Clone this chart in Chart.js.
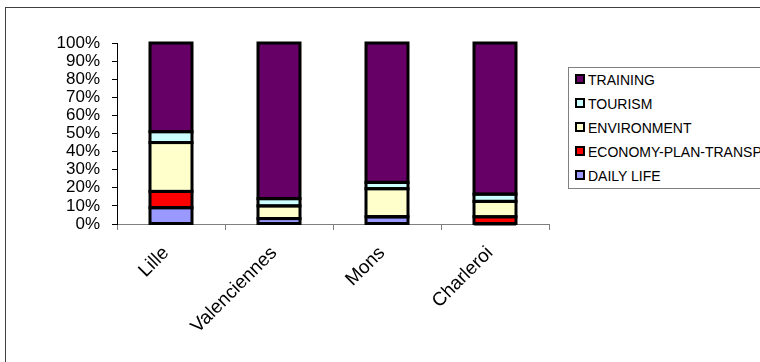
<!DOCTYPE html>
<html lang="en">
<head>
    <meta charset="UTF-8">
    <title>Activity share by city</title>
    <script src="https://cdn.jsdelivr.net/npm/chart.js"></script>
    <style>
        body {
            margin: 0;
            padding: 0;
            background: white;
            font-family: 'Liberation Sans', Arial, sans-serif;
        }
        #wrap {
            position: relative;
            width: 760px;
            height: 362px;
            overflow: hidden;
        }
        #frame {
            position: absolute;
            left: 5px;
            top: 7px;
            width: 800px;
            height: 400px;
            border: 1px solid #404040;
        }
        canvas {
            position: absolute;
            left: 0;
            top: 0;
        }
        #legend {
            position: absolute;
            left: 568px;
            top: 67px;
            width: 260px;
            height: 120px;
            border: 1px solid #808080;
            background: white;
        }
        .item {
            position: absolute;
            left: 6px;
            height: 16px;
            font-size: 14px;
            line-height: 16px;
            white-space: nowrap;
            color: black;
        }
        .item span.box {
            display: inline-block;
            width: 6px;
            height: 6px;
            border: 2px solid black;
            margin-right: 3px;
            vertical-align: 1px;
        }
    </style>
</head>
<body>
<div id="wrap">
    <div id="frame"></div>
    <canvas id="shareChart" width="760" height="362"></canvas>
    <div id="legend"></div>
</div>

<script>
    const cities = ['Lille', 'Valenciennes', 'Mons', 'Charleroi'];

    // percent of each city's total, stacked bottom to top
    const dailyLife = [9, 3, 4, 0];
    const economy = [9, 0, 0, 4];
    const environment = [27, 7, 15.5, 8.5];
    const tourism = [6, 4, 3.5, 4];
    const training = [49, 86, 77, 83.5];

    const yTicks = [0, 10, 20, 30, 40, 50, 60, 70, 80, 90, 100];

    const series = [
        { label: 'DAILY LIFE', data: dailyLife, color: '#9999FF' },
        { label: 'ECONOMY-PLAN-TRANSP', data: economy, color: '#FF0000' },
        { label: 'ENVIRONMENT', data: environment, color: '#FFFFCC' },
        { label: 'TOURISM', data: tourism, color: '#CCFFFF' },
        { label: 'TRAINING', data: training, color: '#660066' }
    ];

    // black outline around every stacked segment, centred on the edges
    const outlineBars = {
        id: 'outlineBars',
        afterDatasetsDraw(chart) {
            const ctx = chart.ctx;
            ctx.save();
            ctx.strokeStyle = '#000';
            ctx.lineWidth = 3;
            chart.data.datasets.forEach((ds, i) => {
                chart.getDatasetMeta(i).data.forEach(bar => {
                    const p = bar.getProps(['x', 'y', 'base', 'width'], true);
                    const top = Math.min(p.y, p.base);
                    ctx.strokeRect(p.x - p.width / 2, top, p.width, Math.abs(p.base - p.y));
                });
            });
            ctx.restore();
        }
    };

    const fontFamily = "'Liberation Sans', Arial, sans-serif";

    new Chart(document.getElementById('shareChart').getContext('2d'), {
        type: 'bar',
        data: {
            labels: cities,
            datasets: series.map(s => ({
                label: s.label,
                data: s.data,
                backgroundColor: s.color,
                borderWidth: 0,
                barThickness: 42
            }))
        },
        options: {
            responsive: false,
            animation: false,
            layout: { padding: { left: 0, top: 43, right: 211, bottom: 0 } },
            plugins: {
                legend: { display: false },
                tooltip: { enabled: false }
            },
            scales: {
                x: {
                    stacked: true,
                    afterFit(scale) { scale.height = 138; },
                    grid: {
                        offset: true,
                        drawOnChartArea: false,
                        tickLength: 6,
                        color: '#808080'
                    },
                    border: { color: '#808080' },
                    ticks: {
                        color: '#000',
                        font: { family: fontFamily, size: 19 },
                        minRotation: 45,
                        maxRotation: 45,
                        autoSkip: false,
                        padding: 12,
                        labelOffset: -5
                    }
                },
                y: {
                    stacked: true,
                    min: 0,
                    max: 100,
                    afterFit(scale) { scale.width = 117; },
                    afterBuildTicks(scale) {
                        scale.ticks = yTicks.map(v => ({ value: v }));
                    },
                    grid: {
                        drawOnChartArea: false,
                        tickLength: 5,
                        color: '#000'
                    },
                    border: { color: '#000' },
                    ticks: {
                        color: '#000',
                        font: { family: fontFamily, size: 17 },
                        autoSkip: false,
                        padding: 12,
                        callback: v => v + '%'
                    }
                }
            }
        },
        plugins: [outlineBars]
    });

    // legend, top entry = top of stack
    const legend = document.getElementById('legend');
    series.slice().reverse().forEach((s, i) => {
        const row = document.createElement('div');
        row.className = 'item';
        row.style.top = (4 + i * 24) + 'px';
        row.innerHTML = '<span class="box" style="background:' + s.color + '"></span>' + s.label;
        legend.appendChild(row);
    });
</script>
</body>
</html>
